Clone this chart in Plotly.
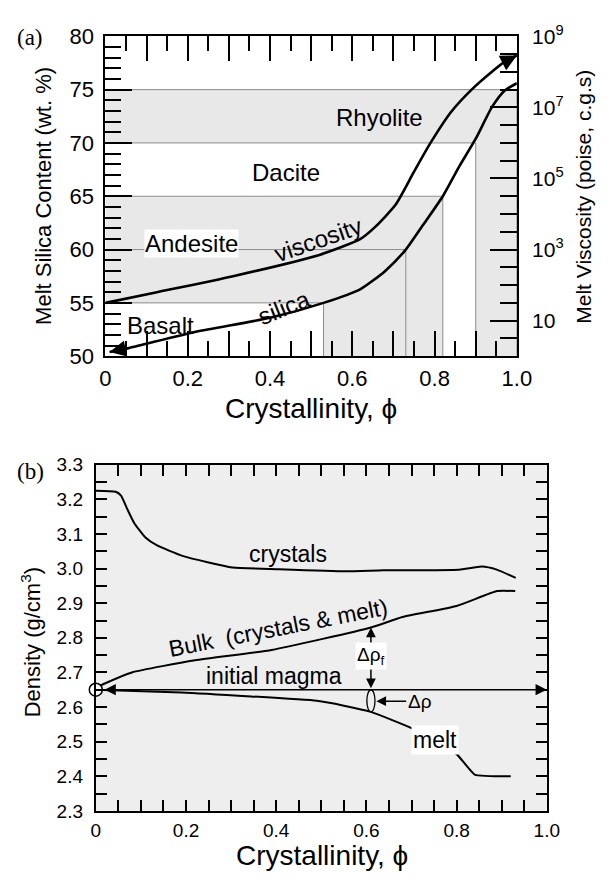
import plotly.graph_objects as go

# ---------------- data: panel (a) ----------------
silica_phi = [0.01, 0.06, 0.22, 0.40, 0.53, 0.62, 0.68, 0.73, 0.77, 0.82, 0.86, 0.90, 0.94, 0.97, 1.00]
silica_wt = [50.4, 50.8, 52.3, 53.6, 55.0, 56.3, 58.0, 60.0, 62.2, 65.0, 67.8, 70.4, 73.4, 74.9, 75.6]

visc_phi = [0.00, 0.125, 0.31, 0.52, 0.62, 0.655, 0.705, 0.75, 0.79, 0.84, 0.89, 0.94, 0.97, 1.00]
visc_log10 = [1.50, 1.80, 2.25, 2.85, 3.30, 3.63, 4.26, 5.19, 6.00, 6.87, 7.50, 8.01, 8.28, 8.46]

bound_silica = [55, 60, 65, 70, 75]
bound_phi = [0.53, 0.73, 0.82, 0.90, 1.00]

rock_names = ["Basalt", "Andesite", "Dacite", "Rhyolite"]
rock_label_phi = [0.134, 0.208, 0.439, 0.667]
rock_label_wt = [52.9, 60.6, 67.2, 72.4]

x_ticks = [0, 0.1, 0.2, 0.3, 0.4, 0.5, 0.6, 0.7, 0.8, 0.9, 1.0]
x_ticktext = ["0", "", "0.2", "", "0.4", "", "0.6", "", "0.8", "", "1.0"]
silica_ticks = [50, 55, 60, 65, 70, 75, 80]
visc_ticks = [1e1, 1e3, 1e5, 1e7, 1e9]
visc_ticktext = ["10", "10<sup>3</sup>", "10<sup>5</sup>", "10<sup>7</sup>", "10<sup>9</sup>"]
visc_minor_log10 = [0.5, 1.5, 2, 2.5, 3.5, 4, 4.5, 5.5, 6, 6.5, 7.5, 8, 8.5]

# ---------------- data: panel (b) ----------------
crystal_phi = [0.0, 0.044, 0.056, 0.069, 0.085, 0.11, 0.136, 0.194, 0.303, 0.387, 0.554, 0.638, 0.805, 0.856, 0.889, 0.931]
crystal_rho = [3.225, 3.222, 3.211, 3.174, 3.132, 3.09, 3.067, 3.036, 3.003, 2.999, 2.992, 2.995, 2.997, 3.006, 2.997, 2.973]

bulk_phi = [0.0, 0.02, 0.08, 0.22, 0.39, 0.61, 0.68, 0.80, 0.89, 0.93]
bulk_rho = [2.655, 2.668, 2.70, 2.735, 2.765, 2.83, 2.86, 2.892, 2.935, 2.935]

melt_phi = [0.0, 0.19, 0.49, 0.55, 0.61, 0.70, 0.80, 0.84, 0.92]
melt_rho = [2.65, 2.642, 2.618, 2.604, 2.586, 2.539, 2.464, 2.405, 2.40]

initial_rho = 2.65
delta_phi = 0.61
delta_bulk_rho = 2.83
delta_melt_rho = 2.586

rho_ticks = [2.3, 2.4, 2.5, 2.6, 2.7, 2.8, 2.9, 3.0, 3.1, 3.2, 3.3]
rho_ticktext = ["2.3", "2.4", "2.5", "2.6", "2.7", "2.8", "2.9", "3.0", "3.1", "3.2", "3.3"]
xb_ticks = [0, 0.2, 0.4, 0.6, 0.8, 1.0]
xb_ticktext = ["0", "0.2", "0.4", "0.6", "0.8", "1.0"]

# ---------------- figure ----------------
W, H = 613, 883
FONT = "Liberation Sans, Arial, Helvetica, sans-serif"
SERIF = "Liberation Serif, Times New Roman, serif"
BAND_GRAY = "#e8e8e8"
LINE_GRAY = "#8c8c8c"

fig = go.Figure()

p55, p60, p65, p70, p75 = bound_phi
# Andesite shading (L-shape)
fig.add_trace(go.Scatter(
    x=[0, p55, p55, p65, p65, 0], y=[55, 55, 50, 50, 65, 65],
    fill="toself", fillcolor=BAND_GRAY, line=dict(width=0), mode="lines",
    xaxis="x", yaxis="y", hoverinfo="skip", showlegend=False))
# Rhyolite shading (L-shape)
fig.add_trace(go.Scatter(
    x=[0, p70, p70, 1, 1, 0], y=[70, 70, 50, 50, 75, 75],
    fill="toself", fillcolor=BAND_GRAY, line=dict(width=0), mode="lines",
    xaxis="x", yaxis="y", hoverinfo="skip", showlegend=False))
# boundary lines
for s, p in zip(bound_silica, bound_phi):
    fig.add_trace(go.Scatter(
        x=[0, p, p], y=[s, s, 50], mode="lines",
        line=dict(color=LINE_GRAY, width=1),
        xaxis="x", yaxis="y", hoverinfo="skip", showlegend=False))

# silica curve
fig.add_trace(go.Scatter(
    x=silica_phi, y=silica_wt, mode="lines",
    line=dict(color="black", width=2.6, shape="spline", smoothing=0.6),
    xaxis="x", yaxis="y", showlegend=False, cliponaxis=False))

# viscosity curve
visc_vals = [10 ** v for v in visc_log10]
fig.add_trace(go.Scatter(
    x=visc_phi, y=visc_vals, mode="lines",
    line=dict(color="black", width=2.6, shape="spline", smoothing=0.6),
    xaxis="x", yaxis="y2", showlegend=False, cliponaxis=False))

# panel b curves
fig.add_trace(go.Scatter(
    x=crystal_phi, y=crystal_rho, mode="lines",
    line=dict(color="black", width=2, shape="spline", smoothing=0.5),
    xaxis="x2", yaxis="y3", showlegend=False))
fig.add_trace(go.Scatter(
    x=bulk_phi, y=bulk_rho, mode="lines",
    line=dict(color="black", width=2, shape="spline", smoothing=0.5),
    xaxis="x2", yaxis="y3", showlegend=False))
fig.add_trace(go.Scatter(
    x=melt_phi, y=melt_rho, mode="lines",
    line=dict(color="black", width=2, shape="spline", smoothing=0.4),
    xaxis="x2", yaxis="y3", showlegend=False))

# domains
xa = [103 / W, 529 / W]
ya = [1 - 353 / H, 1 - 23 / H]
xb = [93 / W, 560 / W]
yb = [1 - 822 / H, 1 - 465 / H]

tickfont_a = dict(family=FONT, size=22, color="black")
tickfont_b = dict(family=FONT, size=19, color="black")

fig.update_layout(
    width=W, height=H,
    margin=dict(l=0, r=0, t=0, b=0),
    paper_bgcolor="white", plot_bgcolor="white",
    showlegend=False,
    xaxis=dict(domain=xa, range=[0, 1], anchor="y",
               showline=True, linecolor="black", linewidth=2, mirror="ticks",
               ticks="inside", tickvals=x_ticks, ticktext=x_ticktext,
               ticklen=25, tickwidth=1.6, tickcolor="black",
               minor=dict(dtick=0.05, ticks="inside", ticklen=15, tickwidth=1.6, tickcolor="black"),
               showgrid=False, zeroline=False, tickfont=tickfont_a, ticklabelstandoff=1),
    yaxis=dict(domain=ya, range=[50, 80], anchor="x",
               showline=True, linecolor="black", linewidth=2, mirror=False,
               ticks="inside", tickvals=silica_ticks, ticklen=27, tickwidth=1.6, tickcolor="black",
               minor=dict(dtick=1, ticks="inside", ticklen=16, tickwidth=1.6, tickcolor="black"),
               showgrid=False, zeroline=False, tickfont=tickfont_a, ticklabelstandoff=5),
    yaxis2=dict(domain=ya, range=[0, 9], type="log", anchor="x", overlaying="y", side="right",
                showline=True, linecolor="black", linewidth=2,
                ticks="inside", tickvals=visc_ticks, ticktext=visc_ticktext,
                ticklen=27, tickwidth=1.6, tickcolor="black",
                minor=dict(tickvals=[10 ** v for v in visc_minor_log10], ticks="inside",
                           ticklen=17, tickwidth=1.6, tickcolor="black"),
                showgrid=False, zeroline=False,
                tickfont=dict(family=FONT, size=21, color="black"), ticklabelstandoff=9),
    xaxis2=dict(domain=xb, range=[0, 1], anchor="y3",
                showline=True, linecolor="black", linewidth=2, mirror="ticks",
                ticks="inside", tickvals=xb_ticks, ticktext=xb_ticktext,
                ticklen=11, tickwidth=1.5, tickcolor="black",
                minor=dict(dtick=0.05, ticks="inside", ticklen=11, tickwidth=1.5, tickcolor="black"),
                showgrid=False, zeroline=False, tickfont=tickfont_b, ticklabelstandoff=1),
    yaxis3=dict(domain=yb, range=[2.3, 3.3], anchor="x2",
                showline=True, linecolor="black", linewidth=2, mirror="ticks",
                ticks="inside", tickvals=rho_ticks, ticktext=rho_ticktext,
                ticklen=11, tickwidth=1.5, tickcolor="black",
                minor=dict(dtick=0.05, ticks="inside", ticklen=11, tickwidth=1.5, tickcolor="black"),
                showgrid=False, zeroline=False, tickfont=tickfont_b, ticklabelstandoff=7),
)

# panel b background
fig.add_shape(type="rect", xref="x2 domain", yref="y3 domain", x0=0, x1=1, y0=0, y1=1,
              fillcolor="#eeeeee", line=dict(width=0), layer="below")

# ellipse at delta_phi
fig.add_shape(type="circle", xref="x2", yref="y3",
              x0=delta_phi - 0.009, x1=delta_phi + 0.009, y0=delta_melt_rho, y1=initial_rho,
              line=dict(color="black", width=1.3), fillcolor="rgba(0,0,0,0)")

# initial magma circle
fig.add_trace(go.Scatter(
    x=[0], y=[initial_rho], mode="markers",
    marker=dict(symbol="circle", size=13, color="white", line=dict(color="black", width=1.5)),
    xaxis="x2", yaxis="y3", showlegend=False, cliponaxis=False))

ann = []
# arrowheads on the panel-a curves
ann.append(dict(x=silica_phi[0], y=silica_wt[0], ax=silica_phi[1], ay=silica_wt[1],
                xref="x", yref="y", axref="x", ayref="y", text="", showarrow=True,
                arrowhead=2, arrowsize=1.25, arrowwidth=2.6, arrowcolor="black"))
ann.append(dict(x=visc_phi[-1], y=visc_log10[-1], ax=visc_phi[-2], ay=visc_log10[-2],
                xref="x", yref="y2", axref="x", ayref="y2", text="", showarrow=True,
                arrowhead=2, arrowsize=1.25, arrowwidth=2.6, arrowcolor="black"))

# rock labels
for name, px, py in zip(rock_names, rock_label_phi, rock_label_wt):
    ann.append(dict(x=px, y=py, xref="x", yref="y", text=name, showarrow=False,
                    font=dict(family=FONT, size=24, color="black"),
                    bgcolor="white" if name == "Andesite" else None, borderpad=0))
ann.append(dict(x=0.518, y=60.9, xref="x", yref="y", text="viscosity", showarrow=False,
                textangle=-19, font=dict(family=FONT, size=24, color="black")))
ann.append(dict(x=0.434, y=54.6, xref="x", yref="y", text="silica", showarrow=False,
                textangle=-22, font=dict(family=FONT, size=24, color="black")))

# panel b labels
lab_b = dict(family=FONT, size=23, color="black")
ann.append(dict(x=0.426, y=3.043, xref="x2", yref="y3", text="crystals", showarrow=False, font=lab_b))
ann.append(dict(x=0.403, y=2.829, xref="x2", yref="y3", text="Bulk\u00a0\u00a0(crystals & melt)",
                showarrow=False, textangle=-11, font=lab_b))
ann.append(dict(x=0.395, y=2.689, xref="x2", yref="y3", text="initial magma", showarrow=False, font=lab_b))
ann.append(dict(x=0.751, y=2.506, xref="x2", yref="y3", text="melt", showarrow=False, font=lab_b,
                bgcolor="white", borderpad=1))
# initial magma double arrow
ann.append(dict(x=1.0, y=initial_rho, ax=0.016, ay=initial_rho, xref="x2", yref="y3",
                axref="x2", ayref="y3", text="", showarrow=True, arrowhead=2, arrowside="end+start",
                arrowsize=1.5, arrowwidth=1.5, arrowcolor="black"))
# delta rho_f double arrow
ann.append(dict(x=delta_phi, y=delta_bulk_rho, ax=delta_phi, ay=initial_rho, xref="x2", yref="y3",
                axref="x2", ayref="y3", text="", showarrow=True, arrowhead=2, arrowside="end+start",
                arrowsize=1.3, arrowwidth=1.5, arrowcolor="black"))
ann.append(dict(x=delta_phi, y=2.747, xref="x2", yref="y3", text="\u0394\u03c1<sub>f</sub>", showarrow=False,
                font=dict(family=FONT, size=19, color="black"), bgcolor="#ffffff", borderpad=1))
# delta rho arrow
ann.append(dict(x=delta_phi + 0.012, y=2.617, ax=0.718, ay=2.617, xref="x2", yref="y3",
                axref="x2", ayref="y3", text="\u0394\u03c1", showarrow=True, arrowhead=2,
                arrowsize=1.3, arrowwidth=1.5, arrowcolor="black",
                font=dict(family=FONT, size=19, color="black")))

# axis titles and panel letters (paper coords)
def P(xpx, ypx):
    return xpx / W, 1 - ypx / H

for txt, (px, py), size, angle, fam in [
    ("Crystallinity, \u03d5", P(316, 407), 28, 0, FONT),
    ("Crystallinity, \u03d5", P(327, 868), 28, 0, FONT),
    ("Melt Silica Content (wt. %)", P(39, 188), 22, -90, FONT),
    ("Melt Viscosity (poise, c.g.s)", P(598, 189), 21, -90, FONT),
    ("Density (g/cm<sup>3</sup>)", P(26, 648), 22, -90, FONT),
    ("(a)", P(25, 24), 23, 0, SERIF),
    ("(b)", P(25, 472), 23, 0, SERIF),
]:
    ann.append(dict(x=px, y=py, xref="paper", yref="paper", text=txt, showarrow=False,
                    textangle=angle, xanchor="center", yanchor="middle",
                    font=dict(family=fam, size=size, color="black")))

fig.update_layout(annotations=ann)

fig.write_html("out.html")
